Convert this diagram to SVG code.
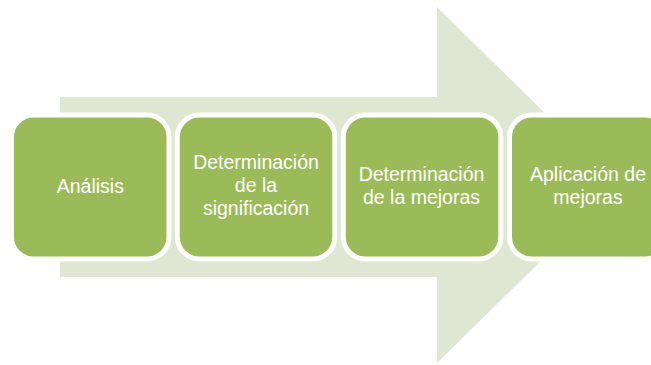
<svg xmlns="http://www.w3.org/2000/svg" width="651" height="365" viewBox="0 0 651 365">
<style>
.box{fill:#9bbb59;stroke:#ffffff;stroke-width:5}
.lbl{font-family:"Liberation Sans",Arial,sans-serif;font-size:19.5px;fill:#ffffff;text-anchor:middle}
</style>
<rect width="651" height="365" fill="#ffffff"/>
<g id="arrow">
<polygon points="60,97 437,97 437,7 618,185 437,363 437,277 60,277" fill="#dfe7d3"/>
</g>
<g id="connectors"></g>
<g id="n1">
<rect class="box" x="11.5" y="115" width="157.5" height="144" rx="22"/>
<text class="lbl" x="90.3" y="192.5">Análisis</text>
</g>
<g id="n2">
<rect class="box" x="177.3" y="115" width="157.5" height="144" rx="22"/>
<text class="lbl" x="256" y="169.3">Determinación</text>
<text class="lbl" x="256" y="192">de la</text>
<text class="lbl" x="256" y="215">significación</text>
</g>
<g id="n3">
<rect class="box" x="343.3" y="115" width="157.5" height="144" rx="22"/>
<text class="lbl" x="421.5" y="181">Determinación</text>
<text class="lbl" x="421.5" y="204">de la mejoras</text>
</g>
<g id="n4">
<rect class="box" x="509.5" y="115" width="157.5" height="144" rx="22"/>
<text class="lbl" x="588" y="181">Aplicación de</text>
<text class="lbl" x="588" y="204">mejoras</text>
</g>
</svg>
